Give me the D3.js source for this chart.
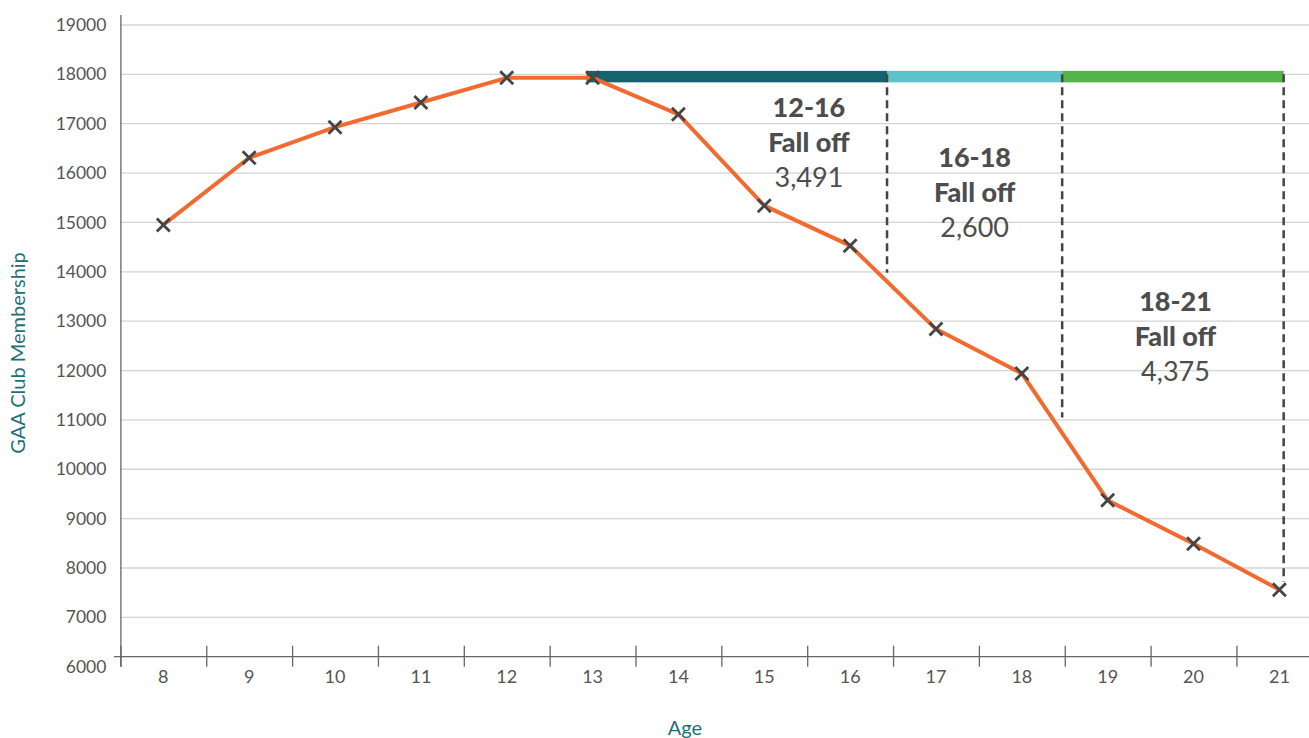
<!DOCTYPE html>
<html><head><meta charset="utf-8">
<script src="https://cdn.jsdelivr.net/npm/d3@7"></script>
<style>
body{margin:0;background:#fff;}
svg{display:block;font-family:Lato, "Open Sans", sans-serif;}
</style></head>
<body>
<svg id="chart" width="1309" height="738"></svg>
<script>
const ages = ["8","9","10","11","12","13","14","15","16","17","18","19","20","21"];
const membership = [14950,16310,16930,17430,17930,17930,17190,15340,14530,12840,11940,9370,8490,7560];
const yTicks = [6000,7000,8000,9000,10000,11000,12000,13000,14000,15000,16000,17000,18000,19000];
// fall-off bands: start / end age positions and colours
const bandStart = [12.93, 16.43, 18.47];
const bandEnd = [16.43, 18.47, 21.05];
const bandColors = ["#15636e","#5bc4c8","#53b548"];
const bandLevel = 18000;
const dashX = [16.43, 18.47, 21.05];
const dashBottom = [13980, 11050, 7720];
const annTitle = ["12-16","16-18","18-21"];
const annValue = ["3,491","2,600","4,375"];
const annX = [15.52, 17.45, 19.79];
const annY = [17140, 16120, 13200];

const svg = d3.select("#chart");
const pLeft = 120.4, pRight = 1322.3, pTop = 25, pBottom = 666.7;
const x = d3.scaleBand().domain(ages).range([pLeft, pRight]).padding(0);
const xc = d => x(d) + x.bandwidth()/2;
const xAge = d3.scaleLinear().domain([8,21]).range([xc("8"), xc("21")]);
const y = d3.scaleLinear().domain([6000,19000]).range([pBottom, pTop]);

// gridlines
svg.append("g").selectAll("line").data(yTicks.filter(v=>v>6000)).join("line")
  .attr("x1", pLeft).attr("x2", 1309).attr("y1", d=>y(d)).attr("y2", d=>y(d))
  .attr("stroke","#d4d4d4").attr("stroke-width",1.3);

// y axis labels
const yAx = svg.append("g").attr("transform",`translate(${pLeft},0)`)
  .call(d3.axisLeft(y).tickValues(yTicks).tickSize(0).tickPadding(14).tickFormat(d3.format("d")));
yAx.select(".domain").remove();
yAx.selectAll("text").attr("fill","#555").style("font-size","17.5px").style("font-family","Lato, sans-serif");
svg.append("line").attr("x1",pLeft+0.5).attr("x2",pLeft+0.5).attr("y1",15).attr("y2",pBottom)
  .attr("stroke","#666").attr("stroke-width",1.3);

// x axis
const axisY = pBottom - 10;
svg.append("line").attr("x1",114).attr("x2",1309).attr("y1",axisY).attr("y2",axisY)
  .attr("stroke","#666").attr("stroke-width",1.3);
svg.append("g").selectAll("line").data(ages).join("line")
  .attr("x1", d=>x(d)+0.5).attr("x2", d=>x(d)+0.5).attr("y1", axisY-11).attr("y2", pBottom)
  .attr("stroke","#666").attr("stroke-width",1.3);
const xAx = svg.append("g").attr("transform",`translate(0,${axisY})`)
  .call(d3.axisBottom(x).tickSize(0).tickPadding(14));
xAx.select(".domain").remove();
xAx.selectAll("text").attr("fill","#555").style("font-size","18px").style("font-family","Lato, sans-serif");

// axis titles
svg.append("text").attr("x",685).attr("y",735).attr("text-anchor","middle")
  .attr("fill","#1f6f78").style("font-size","20px").text("Age");
svg.append("text").attr("transform","translate(25,353) rotate(-90)").attr("text-anchor","middle")
  .attr("fill","#1f6f78").style("font-size","20px").text("GAA Club Membership");

// bands
svg.append("g").selectAll("rect").data(bandStart).join("rect")
  .attr("x",(d)=>xAge(d)).attr("width",(d,i)=>xAge(bandEnd[i])-xAge(d))
  .attr("y", y(bandLevel)-3.5).attr("height",11.5)
  .attr("fill",(d,i)=>bandColors[i]);

// dashed lines
svg.append("g").selectAll("line").data(dashX).join("line")
  .attr("x1",d=>xAge(d)).attr("x2",d=>xAge(d))
  .attr("y1", y(bandLevel)).attr("y2",(d,i)=>y(dashBottom[i]))
  .attr("stroke","#444").attr("stroke-width",2.5).attr("stroke-dasharray","8,5");

// line
const line = d3.line().x((d,i)=>xc(ages[i])).y(d=>y(d));
svg.append("path").datum(membership).attr("d",line)
  .attr("fill","none").attr("stroke","#f26a30").attr("stroke-width",4).attr("stroke-linejoin","round");

// markers
const s = 6.5;
svg.append("g").selectAll("path").data(membership).join("path")
  .attr("d",(d,i)=>{const cx=xc(ages[i]), cy=y(d);
    return `M${cx-s},${cy-s}L${cx+s},${cy+s}M${cx-s},${cy+s}L${cx+s},${cy-s}`;})
  .attr("stroke","#454545").attr("stroke-width",2.8).attr("fill","none");

// annotations
const ann = svg.append("g").selectAll("g").data(annTitle).join("g")
  .attr("transform",(d,i)=>`translate(${xAge(annX[i])},${y(annY[i])})`)
  .attr("text-anchor","middle").attr("fill","#4d4d4d").style("font-size","27px");
ann.append("text").attr("y",0).style("font-weight","900").text(d=>d);
ann.append("text").attr("y",35).style("font-weight","900").text("Fall off");
ann.append("text").attr("y",70).text((d,i)=>annValue[i]);
</script>
</body></html>
